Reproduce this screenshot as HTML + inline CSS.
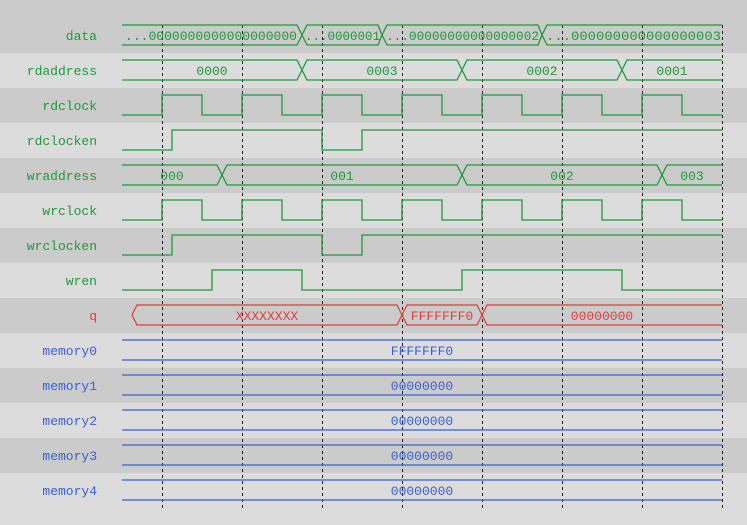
<!DOCTYPE html>
<html><head><style>
html,body{margin:0;padding:0;background:#dcdcdc}
svg{display:block}
text{font-family:"Liberation Mono","DejaVu Sans Mono",monospace;font-size:13px}
</style></head><body>
<svg width="747" height="525" viewBox="0 0 747 525" xmlns="http://www.w3.org/2000/svg">
<rect x="0" y="0" width="747" height="525" fill="#dcdcdc"/>
<rect x="0" y="0" width="747" height="53" fill="#cbcbcb"/>
<rect x="0" y="88" width="747" height="35" fill="#cbcbcb"/>
<rect x="0" y="158" width="747" height="35" fill="#cbcbcb"/>
<rect x="0" y="228" width="747" height="35" fill="#cbcbcb"/>
<rect x="0" y="298" width="747" height="35" fill="#cbcbcb"/>
<rect x="0" y="368" width="747" height="35" fill="#cbcbcb"/>
<rect x="0" y="438" width="747" height="35" fill="#cbcbcb"/>

<g stroke="#222" stroke-width="1" stroke-dasharray="3,3">
<path d="M162.5,25V508M242.5,25V508M322.5,25V508M402.5,25V508M482.5,25V508M562.5,25V508M642.5,25V508M722.5,25V508"/>
</g>

<g font-size="13" text-anchor="end" fill="#1f9a3a">
<text x="97" y="40">data</text>
<text x="97" y="75">rdaddress</text>
<text x="97" y="110">rdclock</text>
<text x="97" y="145">rdclocken</text>
<text x="97" y="180">wraddress</text>
<text x="97" y="215">wrclock</text>
<text x="97" y="250">wrclocken</text>
<text x="97" y="285">wren</text>
<text x="97" y="320" fill="#e03c3c">q</text>
<g fill="#3a5fd0">
<text x="97" y="355">memory0</text>
<text x="97" y="390">memory1</text>
<text x="97" y="425">memory2</text>
<text x="97" y="460">memory3</text>
<text x="97" y="495">memory4</text>
</g>
</g>

<g fill="none" stroke="#1f9a3a" stroke-width="1.3">
<!-- data -->
<path d="M122,25H297L302,35L297,45H122M307,25H378L382,35L378,45H307L302,35Z M387,25H538L542,35L538,45H387L382,35Z M722,25H547L542,35L547,45H722"/>
<!-- rdaddress -->
<path d="M122,60H297L307,80H457L467,60H617L627,80H722M122,80H297L307,60H457L467,80H617L627,60H722"/>
<!-- rdclock -->
<path d="M122,115H162V95H202V115H242V95H282V115H322V95H362V115H402V95H442V115H482V95H522V115H562V95H602V115H642V95H682V115H722"/>
<!-- rdclocken -->
<path d="M122,150H172V130H322V150H362V130H722"/>
<!-- wraddress -->
<path d="M122,165H217L227,185H457L467,165H657L667,185H722M122,185H217L227,165H457L467,185H657L667,165H722"/>
<!-- wrclock -->
<path d="M122,220H162V200H202V220H242V200H282V220H322V200H362V220H402V200H442V220H482V200H522V220H562V200H602V220H642V200H682V220H722"/>
<!-- wrclocken -->
<path d="M122,255H172V235H322V255H362V235H722"/>
<!-- wren -->
<path d="M122,290H212V270H302V290H462V270H622V290H722"/>
</g>

<g fill="#1f9a3a" text-anchor="middle">
<text x="212" y="75">0000</text>
<text x="382" y="75">0003</text>
<text x="542" y="75">0002</text>
<text x="672" y="75">0001</text>
<text x="172" y="180">000</text>
<text x="342" y="180">001</text>
<text x="562" y="180">002</text>
<text x="692" y="180">003</text>
</g>
<g fill="#1f9a3a" font-size="13">
<text x="125" y="40" textLength="172" lengthAdjust="spacingAndGlyphs">...0000000000000000000</text>
<text x="305" y="40" textLength="75" lengthAdjust="spacingAndGlyphs">...0000001</text>
<text x="386" y="40" textLength="153" lengthAdjust="spacingAndGlyphs">...00000000000000002</text>
<text x="546" y="40" textLength="175" lengthAdjust="spacingAndGlyphs">...000000000000000003</text>
</g>

<g fill="none" stroke="#e03c3c" stroke-width="1.2">
<path d="M137,305H397L402,315L397,325H137L132,315Z M407,305H477L482,315L477,325H407L402,315Z M722,305H487L482,315L487,325H722"/>
</g>
<g fill="#e03c3c" text-anchor="middle">
<text x="267" y="320">XXXXXXXX</text>
<text x="442" y="320">FFFFFFF0</text>
<text x="602" y="320">00000000</text>
</g>

<g stroke="#3a5fd0" stroke-width="1.3">
<path d="M122,340H722M122,360H722M122,375H722M122,395H722M122,410H722M122,430H722M122,445H722M122,465H722M122,480H722M122,500H722"/>
</g>
<g fill="#3a5fd0" text-anchor="middle">
<text x="422" y="355">FFFFFFF0</text>
<text x="422" y="390">00000000</text>
<text x="422" y="425">00000000</text>
<text x="422" y="460">00000000</text>
<text x="422" y="495">00000000</text>
</g>
</svg>
</body></html>
